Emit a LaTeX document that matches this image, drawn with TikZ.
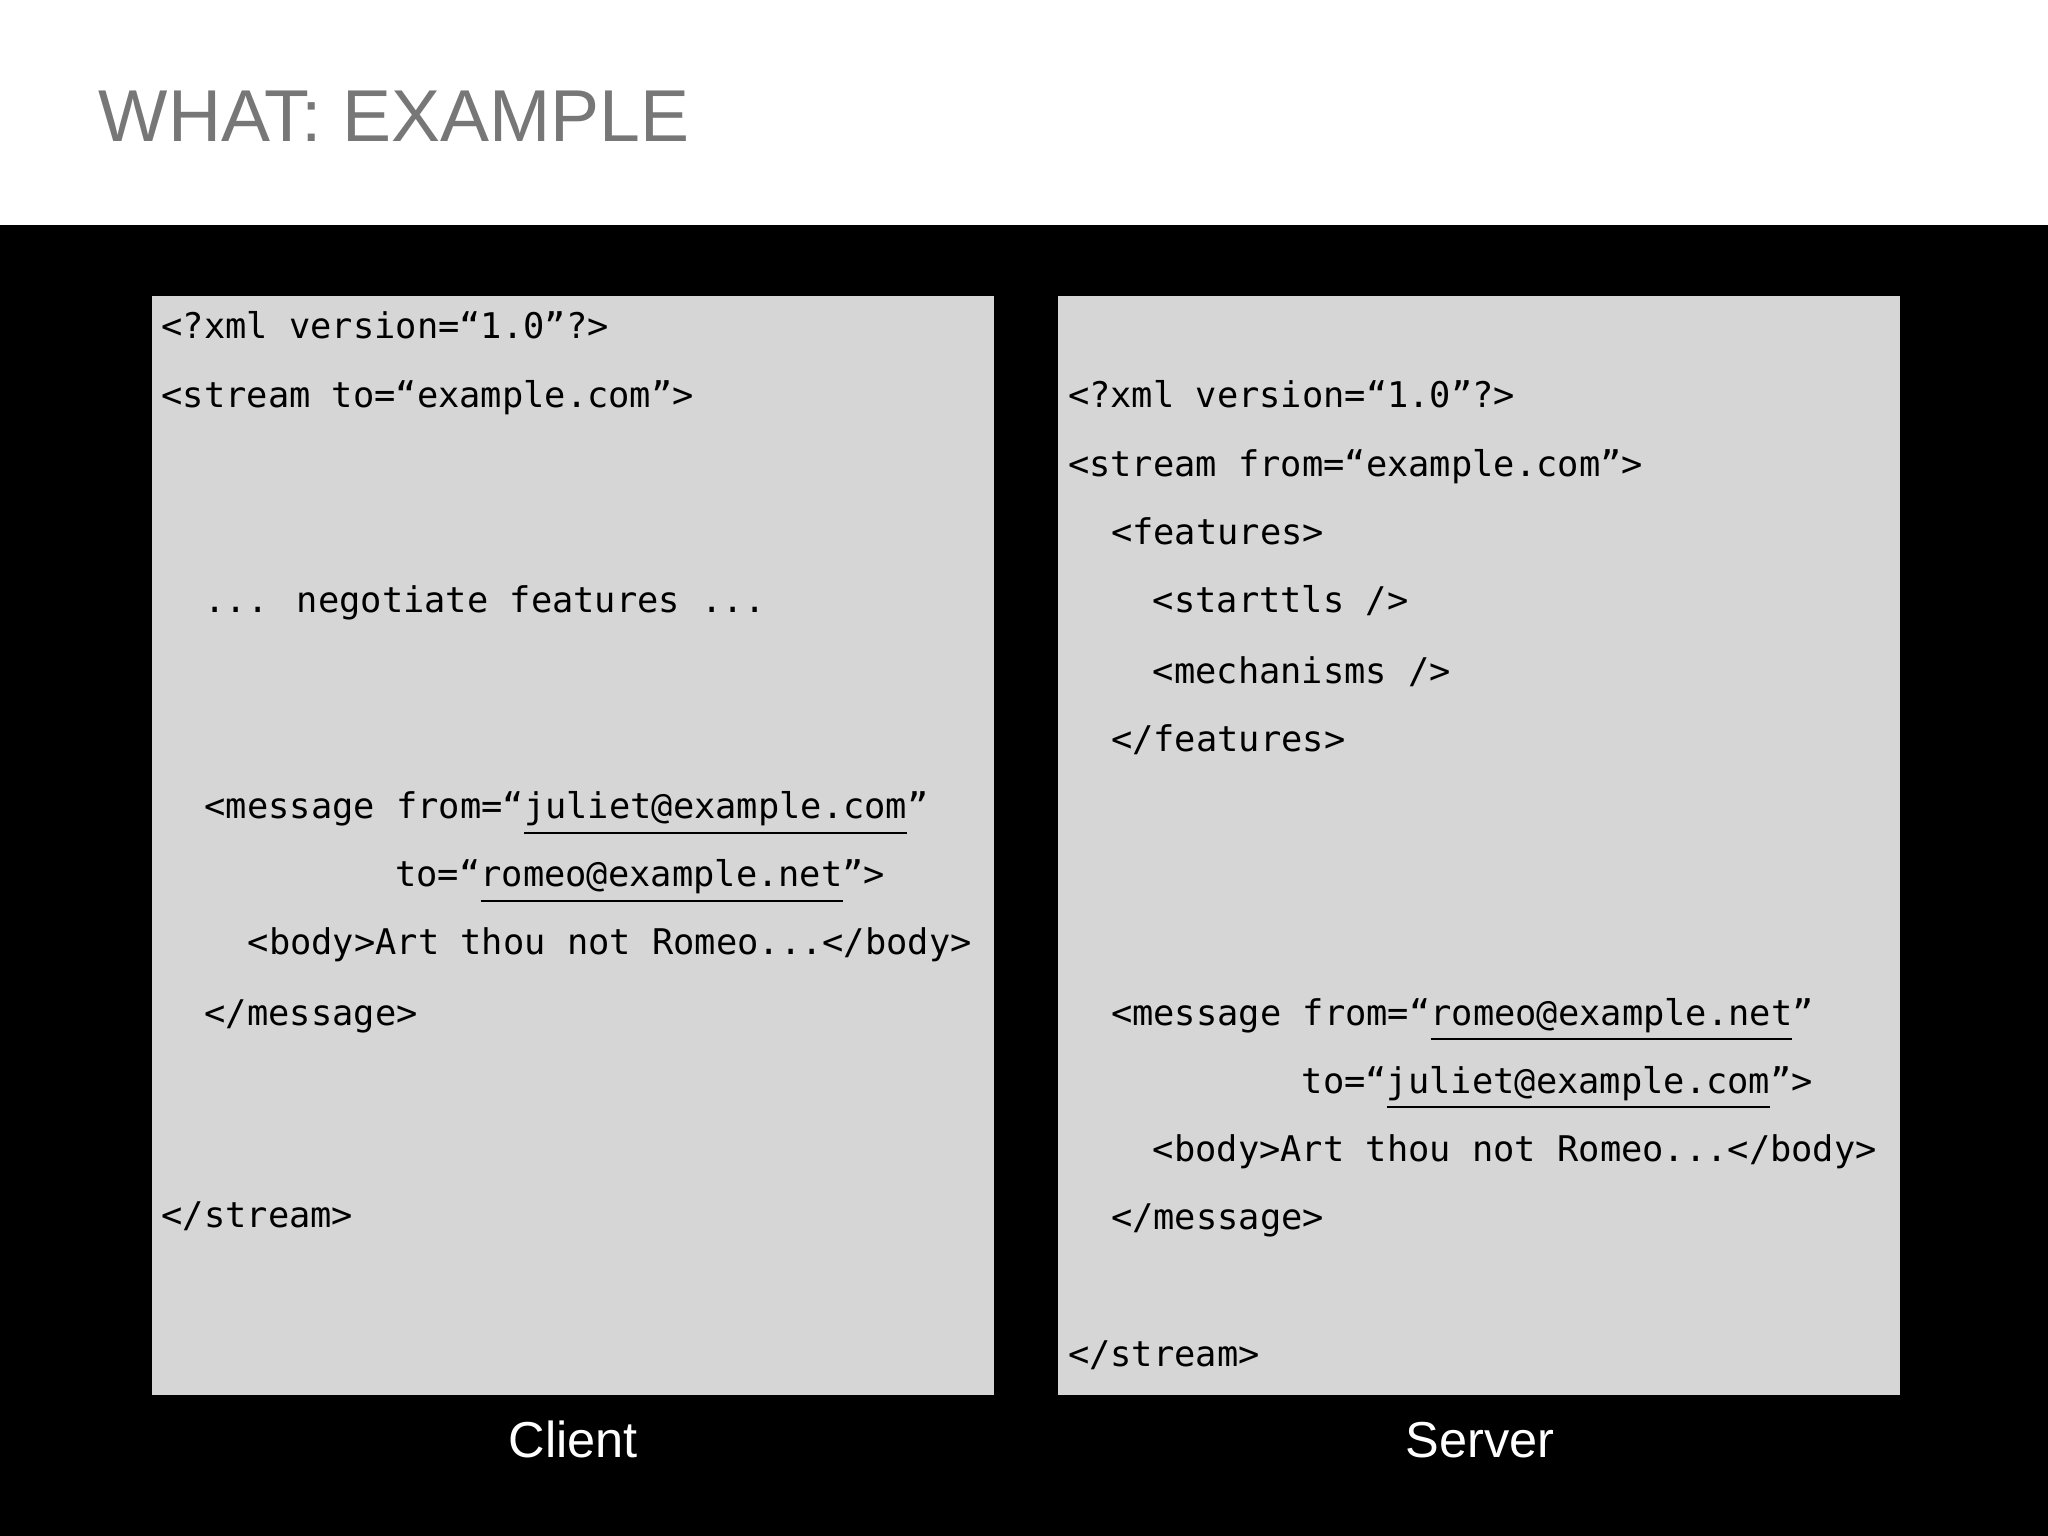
\documentclass[tikz,border=0pt]{standalone}
\usepackage{fontspec}
\setmainfont{Liberation Sans}
\newfontfamily\codefont{DejaVu Sans Mono}
\definecolor{boxgray}{HTML}{D6D6D6}
\definecolor{titlegray}{HTML}{777777}
\begin{document}
\begin{tikzpicture}[x=0.01cm,y=-0.01cm,
  code/.style={anchor=base west,inner sep=0pt,font=\codefont\fontsize{7.7pt}{9pt}\selectfont,text=black},
  lbl/.style={anchor=base,inner sep=0pt,font=\fontsize{11pt}{13pt}\selectfont,text=white}]
\useasboundingbox (0,0) rectangle (1568,1176);
\fill[white] (0,0) rectangle (1568,172);
\fill[black] (0,172) rectangle (1568,1176);
\node[anchor=base west,inner sep=0pt,text=titlegray,font=\fontsize{16pt}{19pt}\selectfont] (title) at (75,108) {WHAT: EXAMPLE};
\fill[boxgray] (116,227) rectangle (761,1068);
\fill[boxgray] (810,227) rectangle (1455,1068);
\node[code] (c1) at (123,259) {<?xml version=“1.0”?>};
\node[code] (c2) at (123,312) {<stream to=“example.com”>};
\node[code] (c3) at (156,469) {... negotiate features ...};
\node[code] (c4) at (156,627) {<message from=“\underline{juliet@example.com}”};
\node[code] (c5) at (302,679) {to=“\underline{romeo@example.net}”>};
\node[code] (c6) at (189,731) {<body>Art thou not Romeo...</body>};
\node[code] (c7) at (156,785) {</message>};
\node[code] (c8) at (123,940) {</stream>};
\node[code] (s1) at (817,312) {<?xml version=“1.0”?>};
\node[code] (s2) at (817,365) {<stream from=“example.com”>};
\node[code] (s3) at (850,417) {<features>};
\node[code] (s4) at (882,469) {<starttls />};
\node[code] (s5) at (882,523) {<mechanisms />};
\node[code] (s6) at (850,575) {</features>};
\node[code] (s7) at (850,785) {<message from=“\underline{romeo@example.net}”};
\node[code] (s8) at (996,837) {to=“\underline{juliet@example.com}”>};
\node[code] (s9) at (882,889) {<body>Art thou not Romeo...</body>};
\node[code] (s10) at (850,941) {</message>};
\node[code] (s11) at (817,1046) {</stream>};
\node[lbl] (client) at (439,1116) {Client};
\node[lbl] (server) at (1133,1116) {Server};
\end{tikzpicture}
\end{document}
